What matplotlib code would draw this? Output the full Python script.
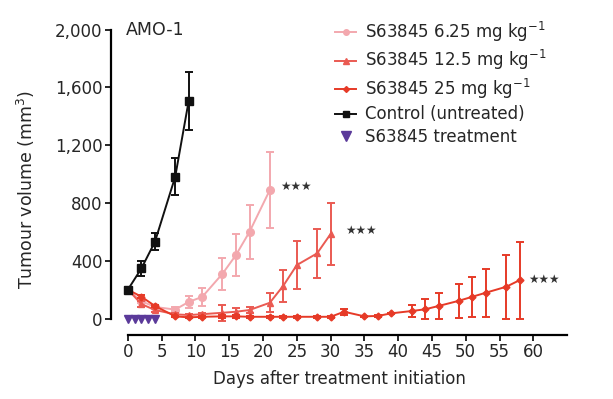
import matplotlib
matplotlib.use("Agg")
import matplotlib.pyplot as plt
from matplotlib.lines import Line2D

plt.rcParams['font.family'] = ['DejaVu Sans']
plt.rcParams['mathtext.fontset'] = 'dejavusans'
plt.rcParams['mathtext.default'] = 'regular'

# ---- data ----
days_control = [0, 2, 4, 7, 9]
control = [200, 347, 531, 981, 1507]
control_err = [20, 51, 58, 129, 201]

days_625 = [0, 2, 4, 7, 9, 11, 14, 16, 18, 21]
v625 = [200, 120, 80, 62, 115, 150, 310, 440, 600, 889]
err625 = [0, 15, 15, 20, 40, 60, 110, 145, 185, 260]

days_125 = [0, 2, 4, 7, 9, 11, 14, 16, 18, 21, 23, 25, 28, 30]
v125 = [200, 100, 59, 29, 24, 30, 40, 47, 59, 109, 227, 370, 451, 585]
err125 = [0, 20, 15, 10, 10, 10, 55, 25, 20, 66, 110, 168, 170, 216]

days_25 = [0, 2, 4, 7, 9, 11, 14, 16, 18, 21, 23, 25, 28, 30, 32, 35, 37, 39,
           42, 44, 46, 49, 51, 53, 56, 58]
v25 = [200, 151, 87, 15, 8, 12, 15, 15, 12, 12, 12, 12, 12, 12, 47, 15, 18, 36,
       52, 64, 87, 123, 151, 179, 220, 266]
err25 = [0, 10, 10, 5, 5, 5, 10, 8, 5, 5, 5, 5, 5, 5, 22, 5, 5, 5,
         42, 70, 90, 119, 139, 165, 220, 267]

treat_days = [0, 1, 2, 3, 4]
treat_y = [0, 0, 0, 0, 0]

labels = ['S63845 6.25 mg kg$^{-1}$', 'S63845 12.5 mg kg$^{-1}$',
          'S63845 25 mg kg$^{-1}$', 'Control (untreated)', 'S63845 treatment']
xticks = list(range(0, 61, 5))
yticks = [0, 400, 800, 1200, 1600, 2000]
ytick_labels = ['0', '400', '800', '1,200', '1,600', '2,000']
stars = [(22.6, 915), (32.1, 612), (59.2, 273)]

c625 = '#F3A8AE'
c125 = '#EA5A52'
c25 = '#E63A27'
ccon = '#111111'
cpur = '#5B3A9A'
tcol = '#262626'

fig = plt.figure(figsize=(6.13, 3.99), dpi=100)
ax = fig.add_axes([0.1811, 0.1604, 0.744, 0.7656])

common = dict(capsize=3.2, capthick=1.4, elinewidth=1.4, lw=1.4)
ax.errorbar(days_625, v625, yerr=err625, color=c625, marker='o', ms=5.5, **common, zorder=2)
ax.errorbar(days_125, v125, yerr=err125, color=c125, marker='^', ms=5, **common, zorder=3)
ax.errorbar(days_25, v25, yerr=err25, color=c25, marker='D', ms=3.5, **common, zorder=4)
ax.errorbar(days_control, control, yerr=control_err, color=ccon, marker='s', ms=6, **common, zorder=5)
ax.plot(treat_days, treat_y, linestyle='none', marker='v', ms=5.5, color=cpur, zorder=6)

for x, y in stars:
    ax.text(x, y, '\u2605\u2605\u2605', fontsize=8.5, ha='left', va='center', color='#333333')

ax.set_xlim(-2.5, 65)
ax.set_ylim(-114, 2000)
ax.spines['top'].set_visible(False)
ax.spines['right'].set_visible(False)
ax.spines['left'].set_bounds(0, 2000)
ax.spines['bottom'].set_bounds(0, 65)
for s in ('left', 'bottom'):
    ax.spines[s].set_linewidth(1.6)
ax.set_xticks(xticks)
ax.set_yticks(yticks)
ax.set_yticklabels(ytick_labels)
ax.tick_params(axis='both', direction='out', length=4, width=1.4, labelsize=12,
               colors=tcol, pad=2)
ax.set_xlabel('Days after treatment initiation', fontsize=12, color=tcol, labelpad=6)
ax.set_ylabel('Tumour volume (mm$^{3}$)', fontsize=12.5, color=tcol)
ax.yaxis.set_label_coords(-0.163, 0.475)
ax.text(-0.3, 2000, 'AMO-1', fontsize=12.5, ha='left', va='center', color=tcol)

handles = [
    Line2D([], [], color=c625, marker='o', ms=4, lw=1.4),
    Line2D([], [], color=c125, marker='^', ms=4, lw=1.4),
    Line2D([], [], color=c25, marker='D', ms=3, lw=1.4),
    Line2D([], [], color=ccon, marker='s', ms=5, lw=1.4),
    Line2D([], [], color=cpur, marker='v', ms=7, lw=0),
]
fig.legend(handles, labels, loc='upper left', bbox_to_anchor=(0.527, 0.98),
           frameon=False, fontsize=12, handlelength=1.3, handletextpad=0.5,
           labelspacing=0.27, borderaxespad=0.3, labelcolor=tcol)

fig.savefig('out.png', dpi=100)
